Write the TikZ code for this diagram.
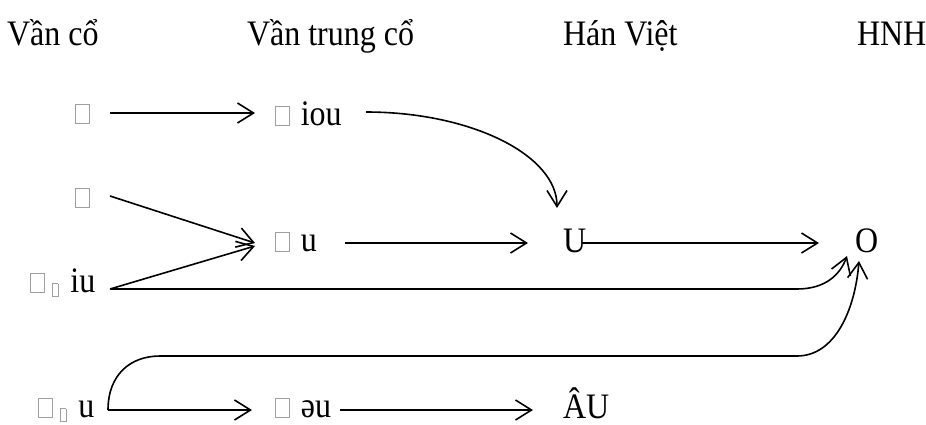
\documentclass[tikz,border=0pt]{standalone}
\usepackage{fontspec}
\setmainfont{Liberation Serif}
\usetikzlibrary{arrows.meta}
\newcommand\tofu{{\color{gray!75}\setlength\fboxsep{0pt}\setlength\fboxrule{0.9pt}\fbox{\rule{0pt}{16.5pt}\hspace{13pt}}}}
\newcommand\stofu{{\color{gray!75}\setlength\fboxsep{0pt}\setlength\fboxrule{0.8pt}\raisebox{-4pt}{\fbox{\rule{0pt}{11pt}\hspace{5pt}}}}}
\tikzset{
  lbl/.style={anchor=base west, inner sep=0pt, outer sep=0pt, yscale=1.12, transform shape, font=\fontsize{32}{38}\selectfont},
  tip/.style={-{Straight Barb[length=16pt,width=20pt,line width=1.6pt]}},
  arr/.style={line width=1.6pt, tip},
}
\begin{document}
\begin{tikzpicture}[x=1pt,y=-1pt]
\useasboundingbox[fill=white] (0,0) rectangle (926,424);
% headers
\node[lbl] (h1) at (7,45) {Vần cổ};
\node[lbl] (h2) at (247,45) {Vần trung cổ};
\node[lbl] (h3) at (563,45) {Hán Việt};
\node[lbl] (h4) at (857,45) {HNH};
% nodes
\node[lbl] (a1) at (75,123) {\tofu};
\node[lbl] (b1) at (275,125) {\tofu\hspace{11pt}iou};
\node[lbl] (a2) at (75,207) {\tofu};
\node[lbl] (a3) at (30,292) {\tofu\hspace{7pt}\stofu\hspace{12pt}iu};
\node[lbl] (b2) at (275,251) {\tofu\hspace{11pt}u};
\node[lbl] (c2) at (563,252) {U};
\node[lbl] (d)  at (855,252) {O};
\node[lbl] (a4) at (38,417) {\tofu\hspace{7pt}\stofu\hspace{12pt}u};
\node[lbl] (b4) at (275,417) {\tofu\hspace{11pt}əu};
\node[lbl] (c4) at (563,418) {ÂU};
% connectors
\draw[arr] ([xshift=35pt,yshift=10pt]a1.base west) -- ([xshift=-20pt,yshift=12pt]b1.base west);
\draw[arr] ([xshift=91pt,yshift=13pt]b1.base west) .. controls +(105,0) and +(0,-53) .. ([xshift=-6pt,yshift=44pt]c2.base west);
\draw[arr] ([xshift=35pt,yshift=11pt]a2.base west) -- ([xshift=-20pt,yshift=8pt]b2.base west);
\draw[arr] ([xshift=80pt,yshift=3pt]a3.base west) -- ([xshift=-20pt,yshift=5pt]b2.base west);
\draw[arr] ([xshift=70pt,yshift=8pt]b2.base west) -- ([xshift=-35pt,yshift=9pt]c2.base west);
\draw[arr] ([xshift=19pt,yshift=9pt]c2.base west) -- ([xshift=-36pt,yshift=9pt]d.base west);
\draw[arr] ([xshift=80pt,yshift=3pt]a3.base west) -- ++(687,0) .. controls +(28,0) and +(-7,19) .. ([xshift=-8pt,yshift=-4pt]d.base west);
\draw[arr] ([xshift=70pt,yshift=7pt]a4.base west) -- ([xshift=-23pt,yshift=7pt]b4.base west);
\draw[arr] ([xshift=70pt,yshift=7pt]a4.base west) .. controls +(0,-35) and +(-30,0) .. ++(52,-54) -- ++(637,0) .. controls +(38,0) and +(-4,49) .. ([xshift=4pt,yshift=-9pt]d.base west);
\draw[arr] ([xshift=65pt,yshift=7pt]b4.base west) -- ([xshift=-30pt,yshift=8pt]c4.base west);
\end{tikzpicture}
\end{document}
